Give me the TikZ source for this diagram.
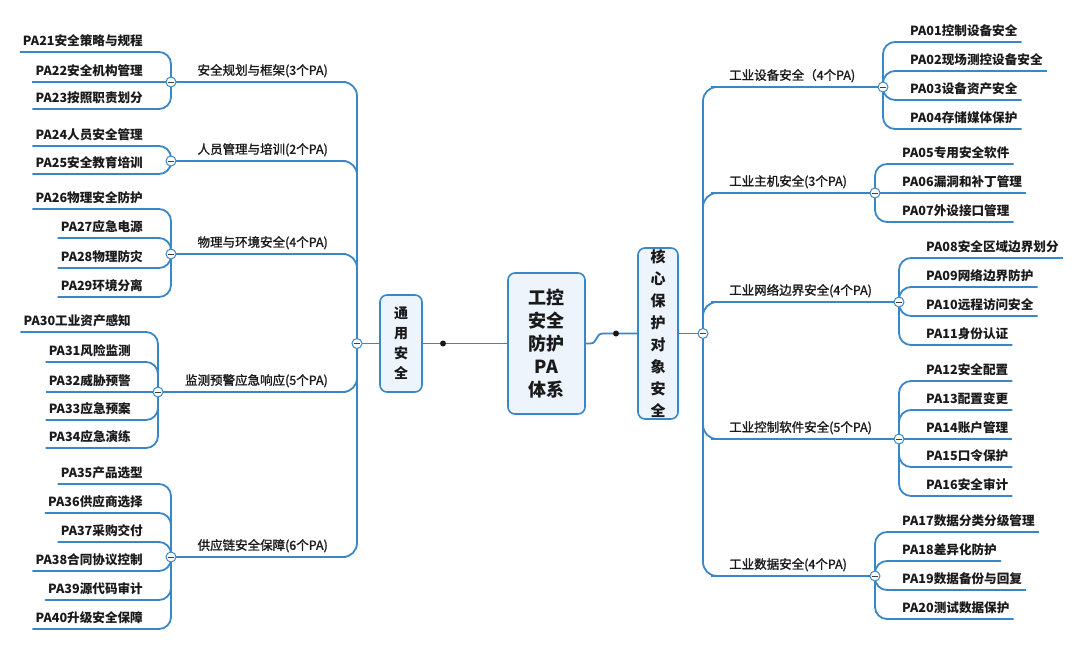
\documentclass[tikz,border=0pt]{standalone}
\usepackage{fontspec}
\newfontfamily\cjk{Noto Sans CJK SC}
\newfontfamily\cjkm[FakeBold=1.4]{Noto Sans CJK SC}
\definecolor{lineblue}{HTML}{3A87C8}
\definecolor{boxfill}{HTML}{EDF4FB}
\definecolor{txt}{HTML}{1A1A1A}
\begin{document}
\begin{tikzpicture}[x=1pt,y=-1pt,
  conn/.style={draw=lineblue, line width=1.8pt},
  leafconn/.style={conn, rounded corners=12pt},
  trunkconn/.style={conn, rounded corners=14pt},
  leafL/.style={anchor=south east, font=\cjk\bfseries\fontsize{12.6}{15}\selectfont, text=txt, inner xsep=3pt, inner ysep=3pt, text height=10pt, text depth=3pt},
  leafR/.style={leafL, anchor=south west, inner xsep=4pt},
  brL/.style={anchor=south east, font=\cjkm\fontsize{12.5}{15}\selectfont, text=txt, inner xsep=4pt, inner ysep=4pt, text height=9.5pt, text depth=3pt},
  brR/.style={brL, anchor=south west},
  tog/.style={circle, draw=lineblue, fill=white, line width=1pt, minimum size=10pt, inner sep=0pt,
    path picture={\draw[line width=0.9pt, black!75] ([xshift=-2.6pt]path picture bounding box.center) -- ([xshift=2.6pt]path picture bounding box.center);}},
  dotn/.style={circle, fill=black!90, minimum size=6pt, inner sep=0pt},
  box/.style={draw=lineblue, fill=boxfill, line width=1.6pt, rounded corners=7pt, align=center, inner sep=0pt, text=txt}
]
\useasboundingbox (0,0) rectangle (1080,662);
\fill[white] (0,0) rectangle (1080,662);

% ---------- central boxes ----------
\node[box, minimum width=42pt, minimum height=97pt, font=\cjk\bfseries\fontsize{14}{20}\selectfont] (tong) at (401,343.5) {通\\用\\安\\全};
\node[box, minimum width=77pt, minimum height=141pt, font=\cjk\bfseries\fontsize{18}{23}\selectfont] (center) at (546.5,343.5) {工控\\安全\\防护\\PA\\体系};
\node[box, minimum width=40pt, minimum height=171pt, font=\cjk\bfseries\fontsize{15}{22}\selectfont] (core) at (658,333.5) {核\\心\\保\\护\\对\\象\\安\\全};

% ---------- toggle / dot positions ----------
\coordinate (tL) at (357,343.5);
\coordinate (tR) at (703,333.5);
\coordinate (dL) at (443,343.5);
\coordinate (dR) at (616,333.5);
\coordinate (c1) at (171,82);
\coordinate (c2) at (171,161);
\coordinate (c3) at (171,254);
\coordinate (c4) at (158,392);
\coordinate (c5) at (171,557);
\coordinate (rc1) at (883,87);
\coordinate (rc2) at (875,193);
\coordinate (rc3) at (899,302);
\coordinate (rc4) at (899,439);
\coordinate (rc5) at (875,576);

% ---------- left branches ----------
\node[brL] (b1) at (332,82) {安全规划与框架(3个PA)};
\node[brL] (b2) at (332,161) {人员管理与培训(2个PA)};
\node[brL] (b3) at (332,254) {物理与环境安全(4个PA)};
\node[brL] (b4) at (332,392) {监测预警应急响应(5个PA)};
\node[brL] (b5) at (332,557) {供应链安全保障(6个PA)};

% ---------- left leaves ----------
\node[leafL] (l21) at (146,52) {PA21安全策略与规程};
\node[leafL] (l22) at (146,82) {PA22安全机构管理};
\node[leafL] (l23) at (146,109) {PA23按照职责划分};
\node[leafL] (l24) at (146,146) {PA24人员安全管理};
\node[leafL] (l25) at (146,174) {PA25安全教育培训};
\node[leafL] (l26) at (146,209) {PA26物理安全防护};
\node[leafL] (l27) at (146,238) {PA27应急电源};
\node[leafL] (l28) at (146,268) {PA28物理防灾};
\node[leafL] (l29) at (146,297) {PA29环境分离};
\node[leafL] (l30) at (134,332) {PA30工业资产感知};
\node[leafL] (l31) at (134,362) {PA31风险监测};
\node[leafL] (l32) at (134,392) {PA32威胁预警};
\node[leafL] (l33) at (134,420) {PA33应急预案};
\node[leafL] (l34) at (134,448) {PA34应急演练};
\node[leafL] (l35) at (146,484) {PA35产品选型};
\node[leafL] (l36) at (146,513) {PA36供应商选择};
\node[leafL] (l37) at (146,542) {PA37采购交付};
\node[leafL] (l38) at (146,571) {PA38合同协议控制};
\node[leafL] (l39) at (146,600) {PA39源代码审计};
\node[leafL] (l40) at (146,629) {PA40升级安全保障};

% ---------- right branches ----------
\node[brR] (r1) at (725,87) {工业设备安全（4个PA)};
\node[brR] (r2) at (725,193) {工业主机安全(3个PA)};
\node[brR] (r3) at (725,302) {工业网络边界安全(4个PA)};
\node[brR] (r4) at (725,439) {工业控制软件安全(5个PA)};
\node[brR] (r5) at (725,576) {工业数据安全(4个PA)};

% ---------- right leaves ----------
\node[leafR] (p01) at (906,42) {PA01控制设备安全};
\node[leafR] (p02) at (906,71) {PA02现场测控设备安全};
\node[leafR] (p03) at (906,100) {PA03设备资产安全};
\node[leafR] (p04) at (906,129) {PA04存储媒体保护};
\node[leafR] (p05) at (898,164) {PA05专用安全软件};
\node[leafR] (p06) at (898,193) {PA06漏洞和补丁管理};
\node[leafR] (p07) at (898,222) {PA07外设接口管理};
\node[leafR] (p08) at (922,258) {PA08安全区域边界划分};
\node[leafR] (p09) at (922,287) {PA09网络边界防护};
\node[leafR] (p10) at (922,316) {PA10远程访问安全};
\node[leafR] (p11) at (922,345) {PA11身份认证};
\node[leafR] (p12) at (922,381) {PA12安全配置};
\node[leafR] (p13) at (922,410) {PA13配置变更};
\node[leafR] (p14) at (922,439) {PA14账户管理};
\node[leafR] (p15) at (922,467) {PA15口令保护};
\node[leafR] (p16) at (922,496) {PA16安全审计};
\node[leafR] (p17) at (898,532) {PA17数据分类分级管理};
\node[leafR] (p18) at (898,561) {PA18差异化防护};
\node[leafR] (p19) at (898,590) {PA19数据备份与回复};
\node[leafR] (p20) at (898,619) {PA20测试数据保护};

% ---------- top-level connectors ----------
\draw[conn] (tL) -- (tong.west);
\draw[conn] (tong.east) -- (dL) -- (center.west);
\draw[conn] (center.east) -- (590,343.5) .. controls (598,343.5) and (595,333.5) .. (603,333.5) -- (dR) -- (core.west);
\draw[conn] (core.east) -- (tR);

% ---------- trunk connectors ----------
\foreach \b/\c in {b1/c1,b2/c2,b3/c3,b4/c4,b5/c5}
  \draw[trunkconn] (tL) |- (\b.south east) -- (\c);
\foreach \b/\c in {r1/rc1,r2/rc2,r3/rc3,r4/rc4,r5/rc5}
  \draw[trunkconn] (tR) |- (\b.south west) -- (\c);

% ---------- left leaf connectors ----------
\foreach \l/\c in {l21/c1,l23/c1,l24/c2,l25/c2,l26/c3,l27/c3,l28/c3,l29/c3,l30/c4,l31/c4,l33/c4,l34/c4,l35/c5,l36/c5,l37/c5,l38/c5,l39/c5,l40/c5}
  \draw[leafconn] (\l.south west) -| (\c);
\draw[conn] (l22.south west) -- (c1);
\draw[conn] (l32.south west) -- (c4);

% ---------- right leaf connectors ----------
\foreach \l/\c in {p01/rc1,p02/rc1,p03/rc1,p04/rc1,p05/rc2,p07/rc2,p08/rc3,p09/rc3,p10/rc3,p11/rc3,p12/rc4,p13/rc4,p15/rc4,p16/rc4,p17/rc5,p18/rc5,p19/rc5,p20/rc5}
  \draw[leafconn] (\c) |- (\l.south west) -- (\l.south east);
\draw[conn] (rc2) -- (p06.south east);
\draw[conn] (rc4) -- (p14.south east);

% ---------- toggles and dots ----------
\foreach \t in {tL,tR,c1,c2,c3,c4,c5,rc1,rc2,rc3,rc4,rc5}
  \node[tog] at (\t) {};
\node[dotn] at (dL) {};
\node[dotn] at (dR) {};
\end{tikzpicture}
\end{document}
